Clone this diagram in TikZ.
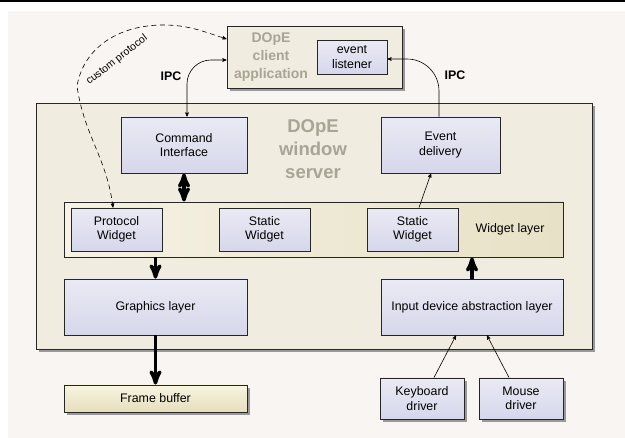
\documentclass[tikz,border=0pt]{standalone}
\usepackage{fontspec}
\setmainfont{Liberation Sans}
\usetikzlibrary{arrows,shadows}

\definecolor{bgcol}{HTML}{F9F5F2}
\definecolor{servercol}{HTML}{F0EDE0}
\definecolor{boxtop}{HTML}{EAEAF4}
\definecolor{boxbot}{HTML}{D6D7EB}
\definecolor{wltop}{HTML}{F6F2E4}
\definecolor{wlbot}{HTML}{E7E1C6}
\definecolor{fbtop}{HTML}{F8F4E2}
\definecolor{fbbot}{HTML}{E5DEBC}
\definecolor{titlecol}{HTML}{A9A494}

\begin{document}
\begin{tikzpicture}[x=1pt,y=-1pt,>=stealth',font=\fontsize{12.4}{14.5}\selectfont,
  module/.style={draw=black!85,line width=0.9,top color=boxtop,bottom color=boxbot,align=center,inner sep=0pt},
  widget/.style={module,minimum width=91,minimum height=43},
  driver/.style={module,minimum width=84,minimum height=41,shadowed},
  shadowed/.style={drop shadow={shadow xshift=3pt,shadow yshift=-3pt,fill=black!40,opacity=1}},
  title/.style={text=titlecol,align=center,font=\fontsize{18.5}{23}\selectfont\bfseries},
  ipc/.style={font=\fontsize{12.4}{14.5}\selectfont\bfseries},
  bigarrow/.style={line width=3.5},
  thin/.style={line width=0.6}]

\useasboundingbox (0,0) rectangle (625,438);
\fill[bgcol] (8,11) rectangle (625,438);
\draw[line width=2] (0,1) -- (625,1);

\node[draw=black!85,line width=0.9,fill=servercol,minimum width=556,minimum height=246,shadowed] (server) at (314,226) {};
\node[title] (srvtitle) at (313,149) {DOpE\\window\\server};

\node[draw=black!85,line width=0.9,fill=servercol,minimum width=175,minimum height=62,shadowed] (client) at (314.5,57) {};
\node[title,font=\fontsize{14}{18}\selectfont\bfseries] (clititle) at (271,57) {DOpE\\client\\application};
\node[module,minimum width=70,minimum height=34] (listener) at (352,57) {event\\listener};

\node[module,minimum width=126,minimum height=56] (cmd) at (184,145) {Command\\Interface};
\node[module,minimum width=119,minimum height=56] (evd) at (440.5,145) {Event\\delivery};

\node[draw=black!85,line width=0.9,left color=wltop,right color=wlbot,minimum width=499,minimum height=55] (wlayer) at (313.5,229.5) {};
\node (wltext) at (510,229) {Widget layer};
\node[widget] (pw) at (116.5,229.5) {Protocol\\Widget};
  \node[widget,node distance=148] (sw1) [right of=pw] {Static\\Widget};
  \node[widget,node distance=148] (sw2) [right of=sw1] {Static\\Widget};

\node[module,minimum width=183,minimum height=56] (gfx) at (155.5,307) {Graphics layer};
\node[module,minimum width=182,minimum height=56] (input) at (472,307) {Input device abstraction layer};

\node[draw=black!85,line width=0.9,top color=fbtop,bottom color=fbbot,minimum width=183,minimum height=27,shadowed] (fb) at (155.5,398.5) {Frame buffer};
\node[driver] (kbd) at (422,398.5) {Keyboard\\driver};
  \node[driver,node distance=99] (mouse) [right of=kbd] {Mouse\\driver};

\draw[thin,<->,rounded corners=24] ([yshift=-3]client.west) -| node[pos=0.64,left=2pt,ipc] (ipcl) {IPC} ([xshift=3]cmd.north);
\draw[thin,->,rounded corners=32] ([xshift=-1.5]evd.north) |- node[pos=0.36,right=2pt,ipc] (ipcr) {IPC} ([yshift=-2]listener.east);

\draw[thin,<->,dash pattern=on 5pt off 3.5pt] ([xshift=-3.5]pw.north) to[out=97,in=-82] (77,86) to[out=80,in=180] (163,25) to[out=0,in=162] ([yshift=18]client.west);
\node[rotate=38,font=\fontsize{10.5}{12}\selectfont] (custom) at (117,60) {custom protocol};

\draw[bigarrow,<->] (cmd) -- (cmd |- wlayer.north);
\draw[bigarrow,->] (wlayer.south -| gfx.north) -- (gfx);
\draw[bigarrow,->] (gfx) -- (fb);
\draw[bigarrow,->] (input) -- (input.north |- wlayer.south);

\path[thin,->] ([xshift=6.5]sw2.north) edge ([xshift=-9.5]evd.south)
        ([xshift=12]kbd.north) edge ([xshift=-16]input.south)
        ([xshift=-12]mouse.north) edge ([xshift=15]input.south);

\end{tikzpicture}
\end{document}
